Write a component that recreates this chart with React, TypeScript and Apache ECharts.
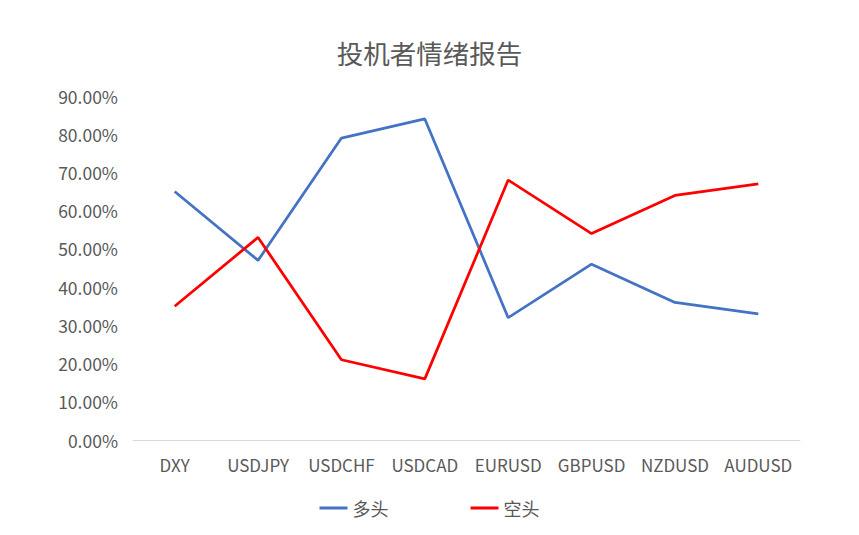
import { useEffect, useRef } from "react";
import * as echarts from "echarts";

const categories = ["DXY", "USDJPY", "USDCHF", "USDCAD", "EURUSD", "GBPUSD", "NZDUSD", "AUDUSD"];
const longValues = [0.65, 0.47, 0.79, 0.84, 0.32, 0.46, 0.36, 0.33];
const shortValues = [0.35, 0.53, 0.21, 0.16, 0.68, 0.54, 0.64, 0.67];

const font = "'Noto Sans CJK SC', 'Noto Sans', sans-serif";
const textColor = "#595959";

export default function App() {
  const ref = useRef<HTMLDivElement | null>(null);

  useEffect(() => {
    if (!ref.current) {
      return;
    }
    const instance = echarts.init(ref.current, undefined, { renderer: "svg" });
    instance.setOption({
      animation: false,
      backgroundColor: "#ffffff",
      textStyle: { fontFamily: font },
      title: {
        text: "投机者情绪报告",
        left: "center",
        top: 34,
        textStyle: { fontFamily: font, fontSize: 26.5, fontWeight: "normal", color: textColor }
      },
      grid: { left: 133, right: 59, top: 96, bottom: 95 },
      legend: {
        bottom: 13,
        left: "center",
        itemWidth: 28,
        itemHeight: 3,
        itemGap: 82,
        icon: "rect",
        textStyle: { fontFamily: font, fontSize: 18, color: textColor },
        data: ["多头", "空头"]
      },
      xAxis: {
        type: "category",
        data: categories,
        boundaryGap: true,
        axisLine: { lineStyle: { color: "#d9d9d9", width: 1 } },
        axisTick: { show: false },
        axisLabel: { interval: 0, color: textColor, fontSize: 17, fontFamily: font, margin: 16 }
      },
      yAxis: {
        type: "value",
        min: 0,
        max: 0.9,
        interval: 0.1,
        splitLine: { show: false },
        axisLine: { show: false },
        axisTick: { show: false },
        axisLabel: {
          color: textColor,
          fontSize: 17.5,
          fontFamily: font,
          margin: 15,
          formatter: (v: number) => (v * 100).toFixed(2) + "%"
        }
      },
      series: [
        {
          name: "多头",
          type: "line",
          data: longValues,
          symbol: "none",
          lineStyle: { color: "#4472C4", width: 2.75 },
          itemStyle: { color: "#4472C4" }
        },
        {
          name: "空头",
          type: "line",
          data: shortValues,
          symbol: "none",
          lineStyle: { color: "#FF0000", width: 2.75 },
          itemStyle: { color: "#FF0000" }
        }
      ]
    });
    return () => {
      instance.dispose();
    };
  }, []);

  return (
    <div
      ref={ref}
      style={{ position: "fixed", left: 0, top: 0, width: 859, height: 535 }}
    />
  );
}
